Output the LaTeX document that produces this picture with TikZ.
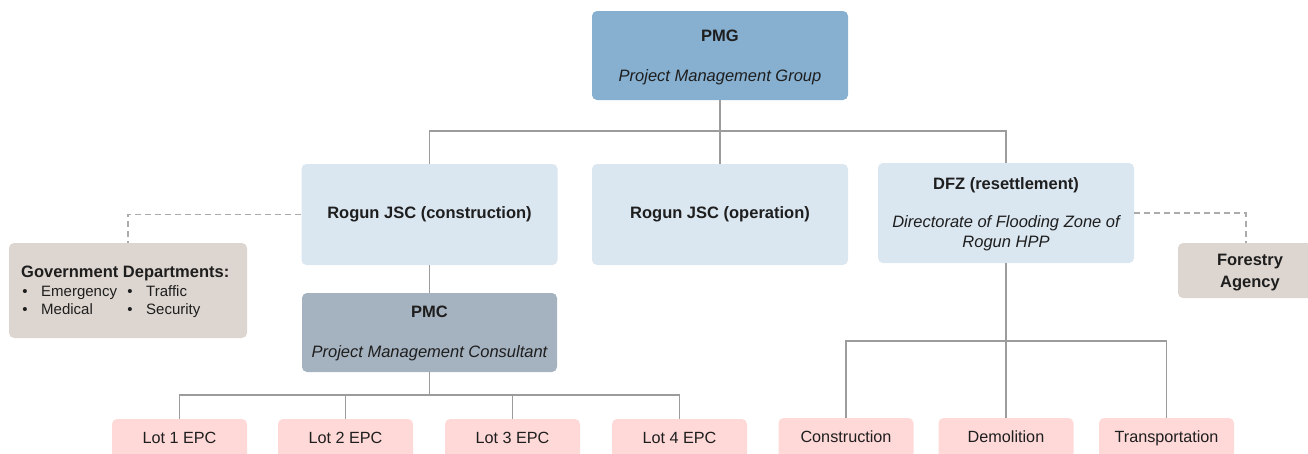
\documentclass[tikz,border=0pt]{standalone}
\usepackage{fontspec}
\setmainfont{Liberation Sans}
\definecolor{pmgblue}{HTML}{86AFD0}
\definecolor{lightblue}{HTML}{DAE6F0}
\definecolor{pmcgray}{HTML}{A5B2BF}
\definecolor{govbeige}{HTML}{DDD6D0}
\definecolor{lotpink}{HTML}{FFD9D8}
\definecolor{linegray}{HTML}{9C9C9C}
\definecolor{txtcol}{HTML}{1E1E1E}
\begin{document}
\begin{tikzpicture}[x=1pt,y=-1pt,
  box/.style={rectangle,rounded corners=5pt,inner sep=0pt,draw=none,text height=11.5pt,text depth=3.5pt},
  txt/.style={inner sep=0pt,text=txtcol,text height=11.5pt,text depth=3.5pt,font=\fontsize{16.5}{19}\selectfont},
  btxt/.style={txt,font=\fontsize{16.5}{19}\selectfont\bfseries},
  itxt/.style={txt,font=\fontsize{16.5}{19}\selectfont\itshape},
  stxt/.style={inner sep=0pt,text=txtcol,text height=10.5pt,text depth=3.2pt,font=\fontsize{15}{17}\selectfont},
  lotbox/.style={box,fill=lotpink,minimum width=135pt,minimum height=40pt,text=txtcol,font=\fontsize{16.2}{19}\selectfont},
  conn/.style={draw=linegray,line width=1.6pt},
  dashconn/.style={draw=linegray!85,line width=1.5pt,dash pattern=on 6pt off 4pt}]
\useasboundingbox (0,0) rectangle (1308,453);

% boxes
\node[box,fill=pmgblue,minimum width=256pt,minimum height=89pt] (pmg) at (720,55.5) {};
\node[btxt] (pmgA) at (720,37) {PMG};
\node[itxt] (pmgB) at (720,77) {Project Management Group};

\node[box,fill=lightblue,minimum width=256pt,minimum height=101pt,font=\fontsize{16.5}{19}\selectfont\bfseries,text=txtcol] (rc) at (429.5,214.5) {Rogun JSC (construction)};
\node[box,fill=lightblue,minimum width=256pt,minimum height=101pt,font=\fontsize{16.5}{19}\selectfont\bfseries,text=txtcol] (ro) at (720,214.5) {Rogun JSC (operation)};

\node[box,fill=lightblue,minimum width=256pt,minimum height=100pt] (dfz) at (1006,213) {};
\node[btxt] (dfzA) at (1006,185) {DFZ (resettlement)};
\node[itxt] (dfzB) at (1006,223) {Directorate of Flooding Zone of};
\node[itxt] (dfzC) at (1006,243) {Rogun HPP};

\node[box,fill=pmcgray,minimum width=255pt,minimum height=79pt] (pmc) at (429.5,332.5) {};
\node[btxt] (pmcA) at (429.5,313) {PMC};
\node[itxt] (pmcB) at (429.5,353) {Project Management Consultant};

\node[box,fill=govbeige,minimum width=238pt,minimum height=95pt] (gov) at (128,290.5) {};
\node[btxt,anchor=west] (govA) at (21,273) {Government Departments:};
\node[stxt] (b1) at (25,293) {•};
\node[stxt,anchor=west] (g1) at (41,293) {Emergency};
\node[stxt] (b2) at (25,311) {•};
\node[stxt,anchor=west] (g2) at (41,311) {Medical};
\node[stxt] (b3) at (130,293) {•};
\node[stxt,anchor=west] (g3) at (146,293) {Traffic};
\node[stxt] (b4) at (130,311) {•};
\node[stxt,anchor=west] (g4) at (146,311) {Security};

\node[box,fill=govbeige,minimum width=144pt,minimum height=55pt] (for) at (1250,270.5) {};
\node[btxt] (forA) at (1250,261) {Forestry};
\node[btxt] (forB) at (1250,283) {Agency};

\node[lotbox] (lot1) at (179.5,439) {Lot 1 EPC};
\node[lotbox] (lot2) at (345.5,439) {Lot 2 EPC};
\node[lotbox] (lot3) at (512.5,439) {Lot 3 EPC};
\node[lotbox] (lot4) at (679.5,439) {Lot 4 EPC};

\node[lotbox] (con) at (846,438) {Construction};
\node[lotbox] (dem) at (1006,438) {Demolition};
\node[lotbox] (tra) at (1166.5,438) {Transportation};

% connectors
\coordinate (bus1) at (720,131);
\draw[conn] (pmg.south) -- (bus1);
\draw[conn] (rc.north) |- (bus1) -| (dfz.north);
\draw[conn] (bus1) -- (ro.north);

\draw[conn] (rc.south) -- (pmc.north);
\coordinate (bus2) at (429.5,395);
\draw[conn] (pmc.south) -- (bus2);
\draw[conn] (lot1.north) |- (bus2) -| (lot4.north);
\draw[conn] (lot2.north) -- (lot2.north |- bus2);
\draw[conn] (lot3.north) -- (lot3.north |- bus2);

\coordinate (bus3) at (1006,341);
\draw[conn] (dfz.south) -- (dem.north);
\draw[conn] (con.north) |- (bus3) -| (tra.north);

\draw[dashconn] (rc.west) -| (gov.north);
\coordinate (fortop) at (1246,243);
\draw[dashconn] (dfz.east) -| (fortop);
\end{tikzpicture}
\end{document}
